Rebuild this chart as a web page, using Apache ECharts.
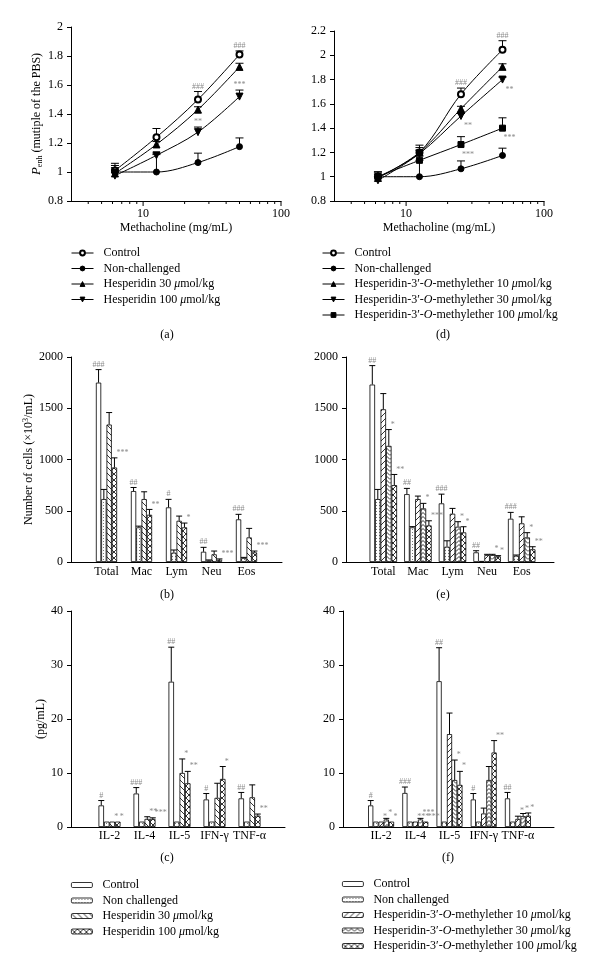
<!DOCTYPE html>
<html>
<head>
<meta charset="utf-8">
<script src="https://cdn.jsdelivr.net/npm/echarts/dist/echarts.min.js"></script>
<style>
  html, body { margin: 0; padding: 0; background: #fff; }
  #chart { width: 600px; height: 975px; }
</style>
</head>
<body>
<div id="chart"></div>
<script>
// ---- data ----
// methacholine doses (mg/mL)
const doses = [6.25, 12.5, 25, 50];
const majorTicks = [10, 100];
const minorTicks = [4, 5, 6, 7, 8, 9, 20, 30, 40, 50, 60, 70, 80, 90];

// (a) Penh, hesperidin
const aCtrl = [1.01, 1.24, 1.50, 1.81];
const aCtrlHi = [1.06, 1.30, 1.555, 1.835];
const aNon = [1.0, 1.0, 1.065, 1.175];
const aNonHi = [1.045, 1.12, 1.13, 1.235];
const aH30 = [0.99, 1.19, 1.43, 1.725];
const aH30Hi = [1.03, 1.21, 1.45, 1.75];
const aH100 = [0.975, 1.115, 1.275, 1.52];
const aH100Hi = [1.02, 1.13, 1.31, 1.565];
const aCtrlSig = ['', '', '###', '###'];
const aH100Sig = ['', '', '**', '***'];

// (d) Penh, hesperidin-3'-O-methylether
const dCtrl = [1.0, 1.2, 1.68, 2.045];
const dCtrlHi = [1.04, 1.26, 1.73, 2.12];
const dNon = [1.0, 1.0, 1.065, 1.175];
const dNonHi = [1.04, 1.135, 1.13, 1.235];
const dM10 = [0.99, 1.2, 1.56, 1.905];
const dM10Hi = [1.02, 1.24, 1.58, 1.93];
const dM30 = [0.97, 1.19, 1.50, 1.80];
const dM30Hi = [1.0, 1.22, 1.52, 1.82];
const dM100 = [1.0, 1.135, 1.265, 1.40];
const dM100Hi = [1.03, 1.17, 1.33, 1.485];
const dCtrlSig = ['', '', '###', '###'];
const dM30Sig = ['', '', '**', '**'];
const dM100Sig = ['', '', '***', '***'];

// (b)/(e) cell counts
const cellCats = ['Total', 'Mac', 'Lym', 'Neu', 'Eos'];
const bCtrl = [1750, 692, 533, 100, 416];
const bCtrlHi = [1877, 727, 611, 143, 465];
const bNon = [614, 338, 91, 15, 39];
const bNonHi = [708, 350, 117, 20, 45];
const bH30 = [1341, 614, 402, 75, 240];
const bH30Hi = [1458, 685, 448, 107, 328];
const bH100 = [922, 461, 338, 22, 94];
const bH100Hi = [1016, 513, 380, 30, 107];
const bCtrlSig = ['###', '##', '#', '##', '###'];
const bH100Sig = ['***', '**', '*', '***', '***'];

const eCtrl = [1731, 662, 572, 94, 422];
const eCtrlHi = [1916, 718, 662, 110, 484];
const eNon = [614, 338, 149, 10, 61];
const eNonHi = [708, 345, 207, 14, 68];
const eM10 = [1490, 614, 471, 68, 377];
const eM10Hi = [1643, 643, 523, 75, 441];
const eM30 = [1133, 523, 344, 68, 240];
const eM30Hi = [1292, 572, 393, 75, 286];
const eM100 = [750, 357, 289, 55, 124];
const eM100Hi = [854, 402, 344, 62, 149];
const eCtrlSig = ['##', '##', '###', '##', '###'];
const eM30Sig = ['*', '*', '*', '*', '*'];
const eM100Sig = ['**', '***', '*', '*', '**'];

// (c)/(f) cytokines (pg/mL)
const cytoCats = ['IL-2', 'IL-4', 'IL-5', 'IFN-γ', 'TNF-α'];
const cCtrl = [4.0, 6.2, 26.9, 5.1, 5.3];
const cCtrlHi = [4.9, 7.3, 33.3, 6.2, 6.4];
const cNon = [1, 1, 1, 1, 1];
const cNonHi = [1, 1, 1, 1, 1];
const cH30 = [1.0, 1.5, 10.0, 5.4, 5.5];
const cH30Hi = [1.0, 1.9, 12.6, 8.1, 7.8];
const cH100 = [1.0, 1.5, 8.1, 8.9, 2.1];
const cH100Hi = [1.0, 1.7, 10.3, 11.2, 2.4];
const cCtrlSig = ['#', '###', '##', '#', '##'];
const cH30Sig = ['*', '**', '*', '', ''];
const cH100Sig = ['*', '***', '**', '*', '**'];

const fCtrl = [4.0, 6.3, 27.0, 5.1, 5.3];
const fCtrlHi = [4.9, 7.4, 33.2, 6.2, 6.4];
const fNon = [1, 1, 1, 1, 1];
const fNonHi = [1, 1, 1, 1, 1];
const fM10 = [1.0, 1.0, 17.2, 2.5, 1.5];
const fM10Hi = [1.0, 1.0, 21.1, 3.5, 2.0];
const fM30 = [1.4, 1.4, 8.7, 8.7, 2.0];
const fM30Hi = [1.6, 1.6, 12.4, 11.2, 2.5];
const fM100 = [1.0, 1.0, 7.8, 13.8, 2.1];
const fM100Hi = [1.0, 1.0, 10.3, 16.0, 2.6];
const fCtrlSig = ['#', '###', '##', '#', '##'];
const fM10Sig = ['*', '***', '', '', '*'];
const fM30Sig = ['*', '***', '*', '', '*'];
const fM100Sig = ['*', '***', '*', '**', '*'];

// ---- names ----
const nCtrl = 'Control';
const nNon = 'Non-challenged';
const nH30 = 'Hesperidin 30 μmol/kg';
const nH100 = 'Hesperidin 100 μmol/kg';
const nM10 = 'Hesperidin-3′-O-methylether 10 μmol/kg';
const nM30 = 'Hesperidin-3′-O-methylether 30 μmol/kg';
const nM100 = 'Hesperidin-3′-O-methylether 100 μmol/kg';

const FONT = 'Liberation Serif';
const SIG = '#8a8a8a';

// hatch fills
function hatch(kind) {
  const c = document.createElement('canvas');
  const w = kind === 'dots' ? 3 : 6, h = kind === 'dots' ? 3 : (kind === 'chev' ? 4 : 6);
  c.width = w; c.height = h;
  const g = c.getContext('2d');
  g.fillStyle = '#fff';
  g.fillRect(0, 0, w, h);
  g.strokeStyle = '#000';
  g.lineWidth = 0.8;
  g.beginPath();
  if (kind === 'dots') {
    g.fillStyle = '#777';
    g.fillRect(1, 1, 1, 1);
  } else if (kind === 'back') {
    g.moveTo(-1, -1); g.lineTo(w + 1, h + 1);
    g.moveTo(-1, h - 1); g.lineTo(1, h + 1);
    g.moveTo(w - 1, -1); g.lineTo(w + 1, 1);
  } else if (kind === 'fwd') {
    g.moveTo(-1, h + 1); g.lineTo(w + 1, -1);
    g.moveTo(-1, 1); g.lineTo(1, -1);
    g.moveTo(w - 1, h + 1); g.lineTo(w + 1, h - 1);
  } else if (kind === 'cross') {
    g.moveTo(0, 0); g.lineTo(w, h);
    g.moveTo(0, h); g.lineTo(w, 0);
  } else if (kind === 'chev') {
    g.moveTo(0, h - 0.5); g.lineTo(w / 2, 0.5); g.lineTo(w, h - 0.5);
  }
  g.stroke();
  return { image: c, repeat: 'repeat' };
}
const fills = {
  none: '#fff', dots: hatch('dots'), back: hatch('back'),
  fwd: hatch('fwd'), cross: hatch('cross'), chev: hatch('chev')
};

const grids = [], xAxes = [], yAxes = [], series = [];
const labelStyle = { color: '#000', fontFamily: FONT, fontSize: 12 };
const blackLine = { lineStyle: { color: '#000', width: 1 } };
const plain = v => String(v);

function linePanel(box, yMin, yMax, yName, lines) {
  grids.push({ left: box.l, top: box.t, width: box.w, height: box.h });
  const gi = grids.length - 1;
  xAxes.push({
    gridIndex: gi, type: 'log', logBase: 10, min: 3, max: 100,
    axisLine: blackLine, axisTick: { show: false }, splitLine: { show: false },
    axisLabel: Object.assign({ showMinLabel: false, margin: 7 }, labelStyle),
    name: 'Methacholine (mg/mL)', nameLocation: 'middle', nameGap: 21,
    nameTextStyle: labelStyle
  });
  const xi = xAxes.length - 1;
  yAxes.push({
    gridIndex: gi, type: 'value', min: yMin, max: yMax, interval: 0.2,
    axisLine: Object.assign({ show: true }, blackLine),
    axisTick: { show: true, length: 4, lineStyle: { color: '#000' } },
    splitLine: { show: false },
    axisLabel: Object.assign({ margin: 8 }, labelStyle),
    name: yName, nameLocation: 'middle', nameGap: 24,
    nameTextStyle: Object.assign({
      rich: {
        i: { fontFamily: FONT, fontSize: 13, fontStyle: 'italic', color: '#000' },
        s: { fontFamily: FONT, fontSize: 8, color: '#000', padding: [7, 0, 0, 0] }
      }
    }, labelStyle)
  });
  const yi = yAxes.length - 1;
  lines.forEach(s => {
    series.push({
      type: 'line', name: s.name, xAxisIndex: xi, yAxisIndex: yi, z: 3,
      data: doses.map((d, i) => [d, s.v[i]]),
      smooth: 0.35, symbol: s.sym, symbolSize: s.size || 6,
      lineStyle: { color: '#000', width: 1 },
      itemStyle: { color: '#000', borderColor: '#000', borderWidth: 1 }
    });
    series.push({
      type: 'custom', xAxisIndex: xi, yAxisIndex: yi, z: 2, silent: true,
      data: doses.map((d, i) => [d, s.v[i], s.hi[i]]),
      renderItem: (p, api) => {
        const p0 = api.coord([api.value(0), api.value(1)]);
        const p1 = api.coord([api.value(0), api.value(2)]);
        const kids = [];
        if (p1[1] < p0[1] - 0.5) {
          kids.push({ type: 'line', shape: { x1: p0[0], y1: p0[1], x2: p1[0], y2: p1[1] }, style: { stroke: '#000', lineWidth: 1 } });
          kids.push({ type: 'line', shape: { x1: p1[0] - 4, y1: p1[1], x2: p1[0] + 4, y2: p1[1] }, style: { stroke: '#000', lineWidth: 1 } });
        }
        const t = s.sig ? s.sig[p.dataIndex] : '';
        if (t) {
          const below = s.sigBelow;
          kids.push({
            type: 'text', x: p1[0] + (below ? 7 : 0), y: below ? p0[1] + 6 : p1[1] - 1,
            style: { text: t, fill: SIG, fontSize: 8, fontFamily: FONT, align: 'center', verticalAlign: below ? 'top' : 'bottom' }
          });
        }
        return { type: 'group', children: kids };
      }
    });
  });
  // log ticks
  series.push({
    type: 'custom', xAxisIndex: xi, yAxisIndex: yi, silent: true,
    data: majorTicks.concat(minorTicks).map(v => [v, yMin]),
    renderItem: (p, api) => {
      const pt = api.coord([api.value(0), yMin]);
      const len = majorTicks.includes(api.value(0)) ? 5 : 3;
      return { type: 'line', shape: { x1: pt[0], y1: pt[1], x2: pt[0], y2: pt[1] + len }, style: { stroke: '#000', lineWidth: 1 } };
    }
  });
}

function barPanel(frame, inner, yMax, interval, yName, nameGap, cats, groups, bw, labelMargin) {
  grids.push({ left: frame.l, top: frame.t, width: frame.w, height: frame.h });
  let gi = grids.length - 1;
  xAxes.push({ gridIndex: gi, type: 'value', min: 0, max: 1, axisLine: Object.assign({ show: true }, blackLine), axisTick: { show: false }, axisLabel: { show: false }, splitLine: { show: false } });
  yAxes.push({
    gridIndex: gi, type: 'value', min: 0, max: yMax, interval: interval,
    axisLine: Object.assign({ show: true }, blackLine),
    axisTick: { show: true, length: 4, lineStyle: { color: '#000' } },
    splitLine: { show: false },
    axisLabel: Object.assign({ margin: 8, formatter: plain }, labelStyle),
    name: yName, nameLocation: 'middle', nameGap: nameGap,
    nameTextStyle: Object.assign({
      rich: { sup: { fontFamily: FONT, fontSize: 8, color: '#000', padding: [0, 0, 6, 0] } }
    }, labelStyle)
  });
  grids.push({ left: inner.l, top: frame.t, width: inner.w, height: frame.h });
  gi = grids.length - 1;
  xAxes.push({
    gridIndex: gi, type: 'category', data: cats,
    axisLine: { show: false }, axisTick: { show: false }, splitLine: { show: false },
    axisLabel: Object.assign({ margin: labelMargin, interval: 0 }, labelStyle)
  });
  const xi = xAxes.length - 1;
  yAxes.push({ gridIndex: gi, type: 'value', min: 0, max: yMax, show: false, splitLine: { show: false } });
  const yi = yAxes.length - 1;
  const n = groups.length;
  groups.forEach((s, k) => {
    series.push({
      type: 'bar', name: 'b|' + s.name, xAxisIndex: xi, yAxisIndex: yi,
      barWidth: bw, barGap: '0%', data: s.v,
      itemStyle: { color: fills[s.fill], borderColor: '#000', borderWidth: 0.8 }
    });
    const off = (k - (n - 1) / 2) * bw;
    series.push({
      type: 'custom', xAxisIndex: xi, yAxisIndex: yi, z: 3, silent: true,
      data: s.v.map((v, i) => [i, v, s.hi[i]]),
      renderItem: (p, api) => {
        const p0 = api.coord([api.value(0), api.value(1)]);
        const p1 = api.coord([api.value(0), api.value(2)]);
        const x = p0[0] + off;
        const kids = [];
        if (p1[1] < p0[1] - 0.5) {
          kids.push({ type: 'line', shape: { x1: x, y1: p0[1], x2: x, y2: p1[1] }, style: { stroke: '#000', lineWidth: 1 } });
          kids.push({ type: 'line', shape: { x1: x - 3, y1: p1[1], x2: x + 3, y2: p1[1] }, style: { stroke: '#000', lineWidth: 1 } });
        }
        const t = s.sig ? s.sig[p.dataIndex] : '';
        if (t) {
          kids.push({
            type: 'text', x: x + (k === 0 ? 0 : 2), y: Math.min(p0[1], p1[1]) - 1,
            style: { text: t, fill: SIG, fontSize: 8, fontFamily: FONT, align: k === 0 ? 'center' : 'left', verticalAlign: 'bottom' }
          });
        }
        return { type: 'group', children: kids };
      }
    });
  });
}

const triDown = 'path://M0,0 L10,0 L5,9 Z';

linePanel({ l: 71, t: 27, w: 210, h: 174 }, 0.8, 2, '{i|P}{s|enh} (mutiple of the PBS)', [
  { name: nCtrl, v: aCtrl, hi: aCtrlHi, sym: 'emptyCircle', sig: aCtrlSig },
  { name: nNon, v: aNon, hi: aNonHi, sym: 'circle' },
  { name: nH30, v: aH30, hi: aH30Hi, sym: 'triangle', size: 7 },
  { name: nH100, v: aH100, hi: aH100Hi, sym: triDown, size: 7, sig: aH100Sig }
]);
linePanel({ l: 334, t: 31, w: 210, h: 170 }, 0.8, 2.2, '', [
  { name: nCtrl, v: dCtrl, hi: dCtrlHi, sym: 'emptyCircle', sig: dCtrlSig },
  { name: nNon, v: dNon, hi: dNonHi, sym: 'circle' },
  { name: nM10, v: dM10, hi: dM10Hi, sym: 'triangle', size: 7 },
  { name: nM30, v: dM30, hi: dM30Hi, sym: triDown, size: 7, sig: dM30Sig, sigBelow: true },
  { name: nM100, v: dM100, hi: dM100Hi, sym: 'rect', size: 6, sig: dM100Sig, sigBelow: true }
]);

barPanel({ l: 71, t: 357, w: 211, h: 205 }, { l: 89, w: 175 }, 2000, 500,
  'Number of cells (×10{sup|3}/mL)', 30, cellCats, [
    { name: nCtrl, v: bCtrl, hi: bCtrlHi, fill: 'none', sig: bCtrlSig },
    { name: 'Non challenged', v: bNon, hi: bNonHi, fill: 'dots' },
    { name: nH30, v: bH30, hi: bH30Hi, fill: 'back' },
    { name: nH100, v: bH100, hi: bH100Hi, fill: 'cross', sig: bH100Sig }
  ], 5.3, 4);
barPanel({ l: 346, t: 357, w: 208, h: 205 }, { l: 366, w: 173 }, 2000, 500, '', 30, cellCats, [
    { name: nCtrl, v: eCtrl, hi: eCtrlHi, fill: 'none', sig: eCtrlSig },
    { name: 'Non challenged', v: eNon, hi: eNonHi, fill: 'dots' },
    { name: nM10, v: eM10, hi: eM10Hi, fill: 'fwd' },
    { name: nM30, v: eM30, hi: eM30Hi, fill: 'chev', sig: eM30Sig },
    { name: nM100, v: eM100, hi: eM100Hi, fill: 'cross', sig: eM100Sig }
  ], 5.5, 4);
barPanel({ l: 71, t: 611, w: 214, h: 216 }, { l: 92, w: 175 }, 40, 10, '(pg/mL)', 16, cytoCats, [
    { name: nCtrl, v: cCtrl, hi: cCtrlHi, fill: 'none', sig: cCtrlSig },
    { name: 'Non challenged', v: cNon, hi: cNonHi, fill: 'dots' },
    { name: nH30, v: cH30, hi: cH30Hi, fill: 'back', sig: cH30Sig },
    { name: nH100, v: cH100, hi: cH100Hi, fill: 'cross', sig: cH100Sig }
  ], 5.5, 3);
barPanel({ l: 343, t: 611, w: 211, h: 216 }, { l: 364, w: 171 }, 40, 10, '', 30, cytoCats, [
    { name: nCtrl, v: fCtrl, hi: fCtrlHi, fill: 'none', sig: fCtrlSig },
    { name: 'Non challenged', v: fNon, hi: fNonHi, fill: 'dots' },
    { name: nM10, v: fM10, hi: fM10Hi, fill: 'fwd', sig: fM10Sig },
    { name: nM30, v: fM30, hi: fM30Hi, fill: 'chev', sig: fM30Sig },
    { name: nM100, v: fM100, hi: fM100Hi, fill: 'cross', sig: fM100Sig }
  ], 5.2, 3);

const legendText = {
  color: '#000', fontFamily: FONT, fontSize: 12, lineHeight: 14, padding: [0, 0, 0, 5],
  rich: { i: { color: '#000', fontFamily: FONT, fontSize: 12, lineHeight: 14, fontStyle: 'italic' } }
};
const legendFmt = name => name.replace(/^b\|/, '').replace('-O-', '-{i|O}-').replace('μ', '{i|μ}');
function legend(left, top, names, bar, gap) {
  return {
    left: left, top: top, orient: 'vertical', selectedMode: false, padding: 0,
    itemWidth: bar ? 21 : 22, itemHeight: bar ? 5 : 6, itemGap: gap,
    icon: bar ? 'roundRect' : undefined,
    itemStyle: { borderWidth: bar ? 0.8 : 1 },
    lineStyle: { width: 1 },
    data: names, formatter: legendFmt, textStyle: legendText
  };
}

const captions = [['(a)', 167, 335], ['(d)', 443, 335], ['(b)', 167, 595], ['(e)', 443, 595], ['(c)', 167, 858], ['(f)', 448, 858]];

const chart = echarts.init(document.getElementById('chart'));
chart.setOption({
  animation: false,
  backgroundColor: '#fff',
  grid: grids,
  xAxis: xAxes,
  yAxis: yAxes,
  series: series,
  legend: [
    legend(71, 246, [nCtrl, nNon, nH30, nH100], false, 1.5),
    legend(322, 246, [nCtrl, nNon, nM10, nM30, nM100], false, 1.5),
    legend(71, 878, ['b|' + nCtrl, 'b|Non challenged', 'b|' + nH30, 'b|' + nH100], true, 1.5),
    legend(342, 877, ['b|' + nCtrl, 'b|Non challenged', 'b|' + nM10, 'b|' + nM30, 'b|' + nM100], true, 1.5)
  ],
  graphic: captions.map(c => ({
    type: 'text', x: c[1], y: c[2],
    style: { text: c[0], fill: '#000', fontFamily: FONT, fontSize: 12, align: 'center', verticalAlign: 'middle' }
  }))
});
</script>
</body>
</html>
